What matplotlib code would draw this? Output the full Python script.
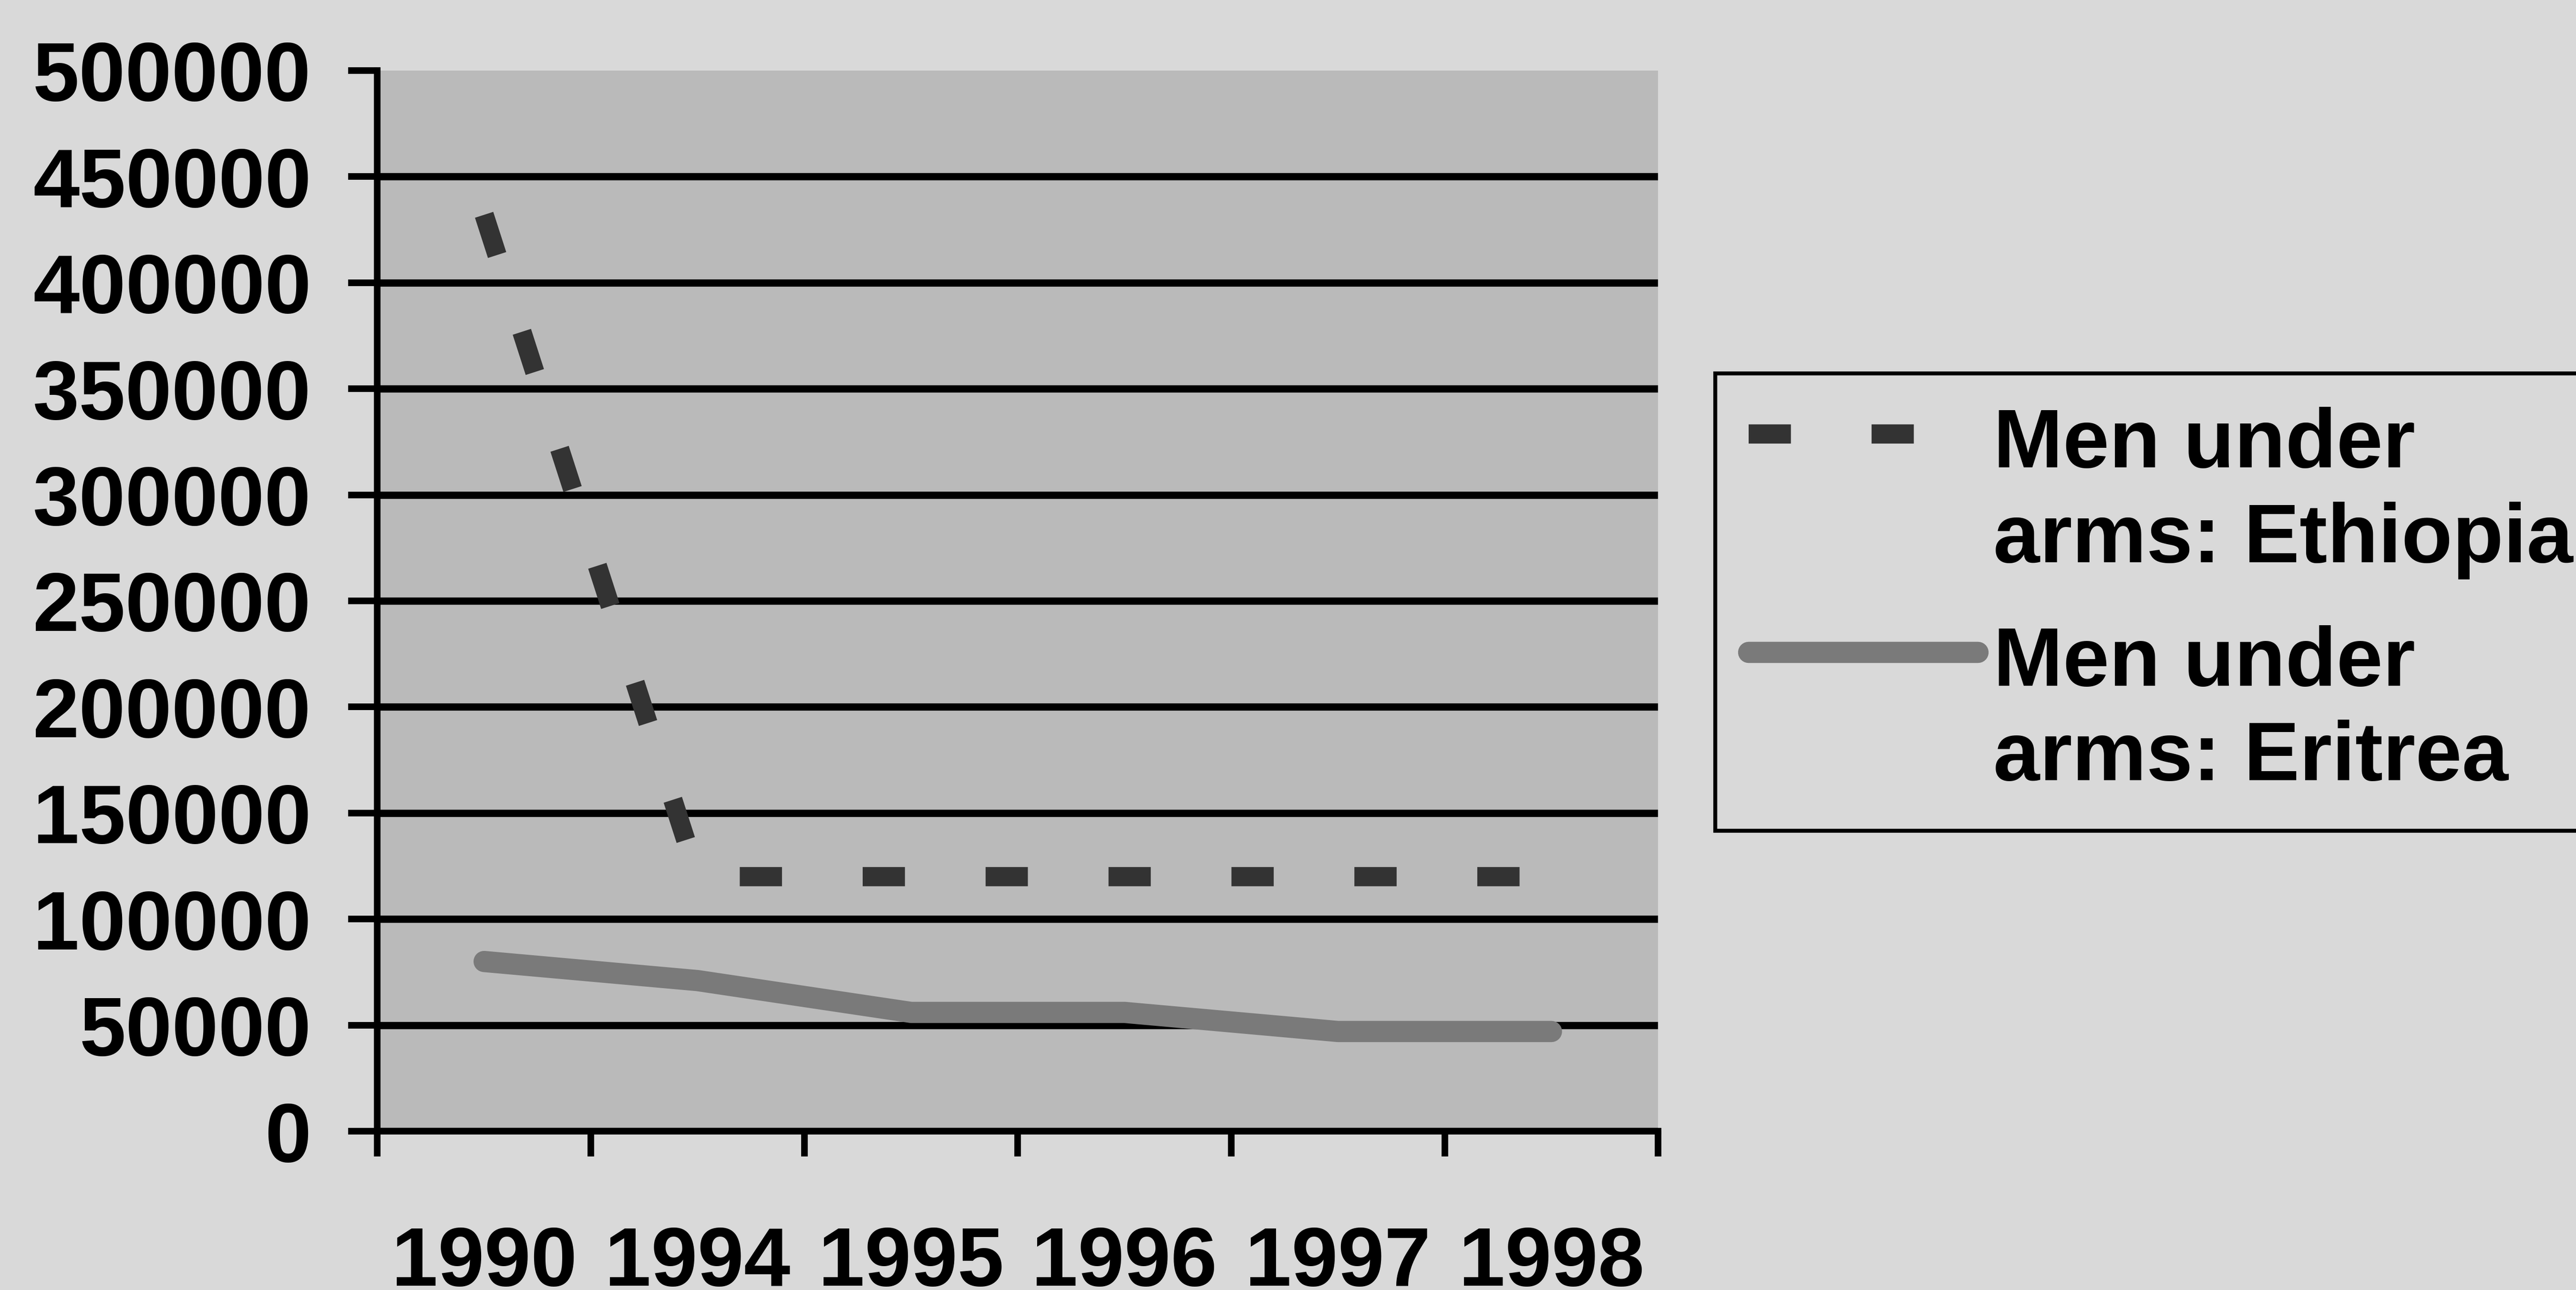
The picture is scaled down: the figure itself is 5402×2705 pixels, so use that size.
import matplotlib
matplotlib.use("Agg")
import matplotlib.pyplot as plt
from matplotlib.legend_handler import HandlerLine2D
import numpy as np

years = ["1990", "1994", "1995", "1996", "1997", "1998"]
ethiopia = [432000, 120000, 120000, 120000, 120000, 120000]
eritrea = [80000, 71000, 56000, 56000, 47000, 47000]
yticks = np.arange(0, 500001, 50000)

plt.rcParams['font.family'] = ['Liberation Sans', 'DejaVu Sans']
plt.rcParams['font.weight'] = 'bold'


class HandlerTopLine(HandlerLine2D):
    # put the handle next to the first line of a two-line label
    def create_artists(self, legend, orig_handle, xdescent, ydescent,
                       width, height, fontsize, trans):
        arts = super().create_artists(legend, orig_handle, xdescent, ydescent,
                                      width, height, fontsize, trans)
        for a in arts:
            a.set_ydata(np.asarray(a.get_ydata()) + 0.72 * fontsize)
        return arts


fig = plt.figure(figsize=(5402 / 200, 2705 / 200), dpi=200, facecolor="#d9d9d9")
ax = fig.add_axes([0.1465, 0.1231, 0.6437 - 0.1465, 0.9453 - 0.1231])
ax.set_facecolor("#bababa")

x = np.arange(len(years))
ax.plot(x, ethiopia, color="#333333", lw=14.5, dashes=(2.2, 4.2),
        dash_capstyle="butt", label="Men under\narms: Ethiopia", zorder=4)
ax.plot(x, eritrea, color="#7a7a7a", lw=16, solid_capstyle="round",
        solid_joinstyle="round", label="Men under\narms: Eritrea", zorder=3)

ax.set_xlim(-0.5, len(years) - 0.5)
ax.set_ylim(0, 500000)
ax.set_yticks(yticks)
ax.set_yticklabels([str(v) for v in yticks])
ax.set_xticks(np.arange(-0.5, len(years), 1.0))
ax.set_xticklabels([])
ax.set_xticks(x, minor=True)
ax.set_xticklabels(years, minor=True)

ax.tick_params(axis="y", length=22, width=5, pad=28, labelsize=63, color="black")
ax.tick_params(axis="x", which="major", length=19, width=5, color="black")
ax.tick_params(axis="x", which="minor", length=0, pad=71, labelsize=63)

ax.grid(axis="y", color="black", lw=5.5, zorder=2)
ax.set_axisbelow(True)
ax.yaxis.get_gridlines()[-1].set_visible(False)

for s in ["top", "right"]:
    ax.spines[s].set_visible(False)
for s in ["left", "bottom"]:
    ax.spines[s].set_linewidth(5)
    ax.spines[s].set_zorder(5)

leg = ax.legend(loc="upper left", bbox_to_anchor=(0.6659, 0.7105),
                bbox_transform=fig.transFigure, fontsize=63, frameon=True,
                fancybox=False, edgecolor="black", facecolor="#d9d9d9",
                borderpad=0.4, handlelength=2.75, handletextpad=0.18,
                labelspacing=0.55, borderaxespad=0,
                handler_map={matplotlib.lines.Line2D: HandlerTopLine()})
for t in leg.get_texts():
    t.set_linespacing(1.28)
leg.get_frame().set_linewidth(3)
leg.get_frame().set_alpha(None)

fig.savefig("out.png", dpi=200, facecolor=fig.get_facecolor())
